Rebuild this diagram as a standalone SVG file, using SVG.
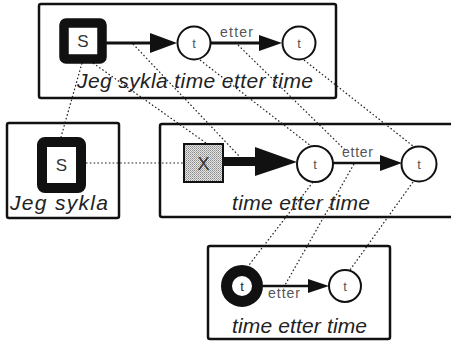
<svg xmlns="http://www.w3.org/2000/svg" width="451" height="342" viewBox="0 0 451 342">
<style>
.box{fill:#fff;stroke:#111;stroke-width:2.5}
.lbl{font-family:"Liberation Sans",Arial,sans-serif;font-style:italic;font-size:21px;fill:#222}
.small{font-family:"Liberation Sans",Arial,sans-serif;font-size:14px;fill:#555}
.tt{font-family:"Liberation Sans",Arial,sans-serif;font-size:13px;fill:#555;text-anchor:middle}
.nd{font-family:"Liberation Sans",Arial,sans-serif;font-size:17px;fill:#333;text-anchor:middle}
.circ{fill:#fff;stroke:#111;stroke-width:2}
.dot{fill:none;stroke:#222;stroke-width:1.2;stroke-dasharray:1.6 2.2}
.shaft{stroke:#111;fill:none}
.head{fill:#111}
</style>
<defs>
<pattern id="dither" width="2" height="2" patternUnits="userSpaceOnUse">
<rect width="2" height="2" fill="#e6e6e6"/>
<rect width="1" height="1" fill="#888"/>
<rect x="1" y="1" width="1" height="1" fill="#aaa"/>
</pattern>
</defs>
<rect width="451" height="342" fill="#fff"/>

<g id="box-top">
<rect class="box" x="39" y="4" width="297" height="94" rx="2"/>
<text class="lbl" x="77" y="88" textLength="236" lengthAdjust="spacing">Jeg sykla time etter time</text>
</g>
<g id="box-left">
<rect class="box" x="7" y="123" width="112" height="95" rx="2"/>
<text class="lbl" x="10" y="210" textLength="98" lengthAdjust="spacing">Jeg sykla</text>
</g>
<g id="box-mid">
<rect class="box" x="160" y="124" width="300" height="93" rx="2"/>
<text class="lbl" x="232" y="210" textLength="138" lengthAdjust="spacing">time etter time</text>
</g>
<g id="box-bottom">
<rect class="box" x="208" y="246" width="182" height="93" rx="2"/>
<text class="lbl" x="232" y="333" textLength="135" lengthAdjust="spacing">time etter time</text>
</g>

<g id="connectors">
<line class="dot" x1="82" y1="63" x2="61" y2="137"/>
<line class="dot" x1="93" y1="63" x2="206" y2="143"/>
<line class="dot" x1="133" y1="44" x2="240" y2="157"/>
<line class="dot" x1="200" y1="60" x2="311" y2="146"/>
<line class="dot" x1="238" y1="45" x2="345" y2="150"/>
<line class="dot" x1="304" y1="60" x2="413" y2="146"/>
<line class="dot" x1="86" y1="163" x2="183" y2="163"/>
<line class="dot" x1="313" y1="182" x2="249" y2="265"/>
<line class="dot" x1="354" y1="164" x2="285" y2="285"/>
<line class="dot" x1="413" y1="182" x2="350" y2="270"/>
<line class="shaft" x1="106" y1="43" x2="152" y2="43" stroke-width="3"/>
<polygon class="head" points="150,33 177,43 150,53"/>
<line class="shaft" x1="211" y1="43" x2="262" y2="43" stroke-width="3"/>
<polygon class="head" points="259,35 282,43 259,51"/>
<text class="small" x="220" y="37" textLength="33" lengthAdjust="spacing">etter</text>
<rect class="head" x="223" y="157" width="34" height="9"/>
<polygon class="head" points="255,147 297,162 255,176"/>
<line class="shaft" x1="333" y1="163" x2="384" y2="163" stroke-width="2.5"/>
<polygon class="head" points="380,155 402,163 380,171"/>
<text class="small" x="342" y="157" textLength="31" lengthAdjust="spacing">etter</text>
<line class="shaft" x1="263" y1="286" x2="311" y2="286" stroke-width="2.5"/>
<polygon class="head" points="308,279 329,286 308,293"/>
<text class="small" x="268" y="298" textLength="32" lengthAdjust="spacing">etter</text>
</g>

<g id="node-top-s">
<rect x="64" y="23" width="38" height="36" rx="2" fill="#fff" stroke="#111" stroke-width="9.5"/>
<text class="nd" x="83" y="47">S</text>
</g>
<g id="node-top-t1">
<circle class="circ" cx="194" cy="43" r="16.5"/>
<text class="tt" x="194" y="48">t</text>
</g>
<g id="node-top-t2">
<circle class="circ" cx="299" cy="43" r="16.5"/>
<text class="tt" x="299" y="48">t</text>
</g>
<g id="node-left-s">
<rect x="42" y="142" width="39" height="46" rx="3" fill="#fff" stroke="#111" stroke-width="10"/>
<text class="nd" x="61.5" y="171">S</text>
</g>
<g id="node-mid-x">
<rect x="184" y="144" width="39" height="38" fill="url(#dither)" stroke="#111" stroke-width="2"/>
<text class="nd" x="203.5" y="170" style="font-size:18px">X</text>
</g>
<g id="node-mid-t1">
<circle class="circ" cx="315" cy="164" r="18"/>
<text class="tt" x="315" y="169">t</text>
</g>
<g id="node-mid-t2">
<circle class="circ" cx="419" cy="164" r="17.5"/>
<text class="tt" x="419" y="169">t</text>
</g>
<g id="node-bot-t1">
<circle cx="242" cy="286" r="15.5" fill="#fff" stroke="#111" stroke-width="11"/>
<text class="tt" x="242" y="291" style="fill:#222">t</text>
</g>
<g id="node-bot-t2">
<circle class="circ" cx="345" cy="286" r="16"/>
<text class="tt" x="345" y="291">t</text>
</g>
</svg>
